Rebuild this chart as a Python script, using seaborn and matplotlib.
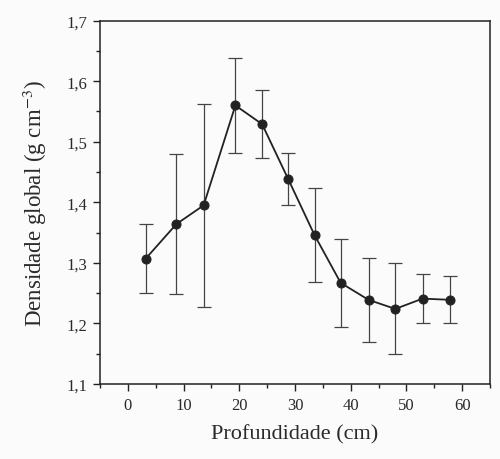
import matplotlib
matplotlib.use("Agg")
import matplotlib.pyplot as plt
from matplotlib.ticker import MultipleLocator, FuncFormatter
import seaborn as sns
import pandas as pd

# Bulk density profile (mean ± deviation) by soil depth
depth_cm = [3.2, 8.7, 13.6, 19.3, 24.1, 28.8, 33.5, 38.2, 43.2, 48.0, 52.9, 57.9]
density = [1.307, 1.364, 1.395, 1.560, 1.529, 1.438, 1.346, 1.267, 1.239, 1.224, 1.241, 1.239]
deviation = [0.057, 0.115, 0.168, 0.079, 0.056, 0.043, 0.078, 0.073, 0.069, 0.075, 0.041, 0.039]

x_ticks = [0, 10, 20, 30, 40, 50, 60]
y_ticks = [1.1, 1.2, 1.3, 1.4, 1.5, 1.6, 1.7]

sns.set_theme(style="ticks")
plt.rcParams["font.family"] = ["Liberation Serif", "DejaVu Serif"]
plt.rcParams["mathtext.fontset"] = "stix"

df = pd.DataFrame({"depth": depth_cm, "density": density, "dev": deviation})

fig = plt.figure(figsize=(5.0, 4.6), dpi=100, facecolor="#fbfbfb")
ax = fig.add_axes([0.200, 0.163, 0.780, 0.790])
ax.set_facecolor("#fbfbfb")

ink = "#222222"
ax.errorbar(df["depth"], df["density"], yerr=df["dev"], fmt="none",
            ecolor="#444444", elinewidth=0.9, capsize=5, capthick=0.9, zorder=2)
sns.lineplot(data=df, x="depth", y="density", ax=ax, color=ink, linewidth=1.3,
             marker="o", markersize=6.5, markeredgecolor=ink, markerfacecolor=ink,
             zorder=3)

ax.set_xlim(-5, 65)
ax.set_ylim(1.1, 1.7)
ax.set_xticks(x_ticks)
ax.set_yticks(y_ticks)
ax.xaxis.set_minor_locator(MultipleLocator(5))
ax.yaxis.set_minor_locator(MultipleLocator(0.05))
ax.yaxis.set_major_formatter(FuncFormatter(lambda v, p: f"{v:.1f}".replace(".", ",")))

ax.tick_params(axis="both", which="major", direction="out", length=5, width=1,
               color=ink, labelsize=12, labelcolor="#2a2a2a", pad=4)
ax.tick_params(axis="both", which="minor", direction="out", length=3, width=1, color=ink)
ax.tick_params(top=False, right=False, which="both")

for side in ["left", "right", "top", "bottom"]:
    ax.spines[side].set_visible(True)
    ax.spines[side].set_color(ink)
    ax.spines[side].set_linewidth(1.1)

ax.set_xlabel("Profundidade (cm)", fontsize=16, color="#2a2a2a", labelpad=8)
ax.set_ylabel(r"Densidade global (g cm$^{-3}$)", fontsize=16.5, color="#2a2a2a", labelpad=13)

fig.savefig("out.png", dpi=100, facecolor=fig.get_facecolor())
